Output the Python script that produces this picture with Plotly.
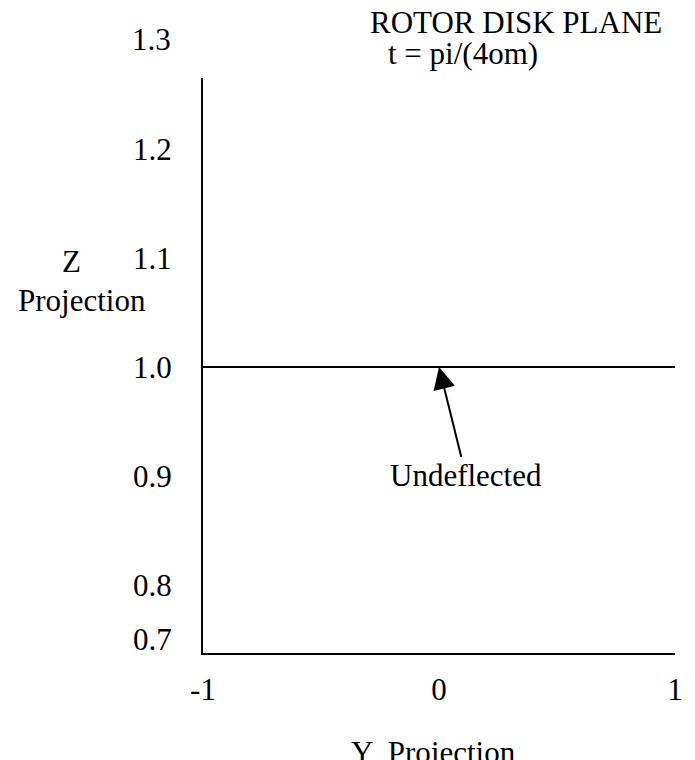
import plotly.graph_objects as go

# Data
y_projection = [-1.0, 1.0]
z_projection = [1.0, 1.0]
x_tick_vals = [-1, 0, 1]
x_tick_text = ["-1", "0", "1"]
y_tick_vals = [0.75, 0.8, 0.9, 1.0, 1.1, 1.2]
y_tick_text = ["0.7", "0.8", "0.9", "1.0", "1.1", "1.2"]
top_tick_val = 1.3
top_tick_text = "1.3"
title_lines = ["ROTOR DISK PLANE", "t = pi/(4om)"]
arrow_label = "Undeflected"
arrow_point = (0.0, 1.0)

FONT = "Liberation Serif, Times New Roman, serif"
FS = 31

# The page adds an 8px body margin, so the figure is 8px smaller.
W, H = 687, 752
L, R, T, B = 195, 13, 70, 107
pw, ph = W - L - R, H - T - B
Y0, Y1 = 0.7376, 1.2651

fig = go.Figure()
fig.add_trace(go.Scatter(x=y_projection, y=z_projection, mode="lines",
                         line=dict(color="black", width=2), showlegend=False,
                         hoverinfo="skip"))

fig.update_layout(
    width=W, height=H,
    margin=dict(l=L, r=R, t=T, b=B),
    paper_bgcolor="white", plot_bgcolor="white",
    font=dict(family=FONT, size=FS, color="black"),
    xaxis=dict(range=[-1, 1], tickvals=x_tick_vals, ticktext=x_tick_text,
               showline=True, linecolor="black", linewidth=2, showgrid=False,
               zeroline=False, ticks="", ticklabelstandoff=8),
    yaxis=dict(range=[Y0, Y1], tickvals=y_tick_vals, ticktext=y_tick_text,
               showline=True, linecolor="black", linewidth=2, showgrid=False,
               zeroline=False, ticks="", ticklabelstandoff=23),
)


def px(x, y, text, xanchor="center"):
    return dict(text=text, xref="paper", yref="paper",
                x=(x - L) / pw, y=(H - B - y) / ph,
                xanchor=xanchor, yanchor="middle", showarrow=False)


# y of the 1.3 label in paper units, from the axis scale
top_paper = (top_tick_val - Y0) / (Y1 - Y0)

annotations = [
    dict(text=top_tick_text, xref="paper", yref="paper", x=0, y=top_paper,
         xanchor="right", yanchor="middle", xshift=-30, showarrow=False),
    px(513, 14, title_lines[0]),
    px(459, 45, title_lines[1]),
    px(62, 254, "Z"),
    px(72, 292, "Projection"),
    px(429, 744, "Y  Projection"),
    dict(text=arrow_label, x=arrow_point[0], y=arrow_point[1],
         xref="x", yref="y", showarrow=True, ax=27, ay=109,
         arrowhead=2, arrowsize=2.2, arrowwidth=2, arrowcolor="black",
         standoff=0),
]
fig.update_layout(annotations=annotations)

fig.write_html("out.html")
